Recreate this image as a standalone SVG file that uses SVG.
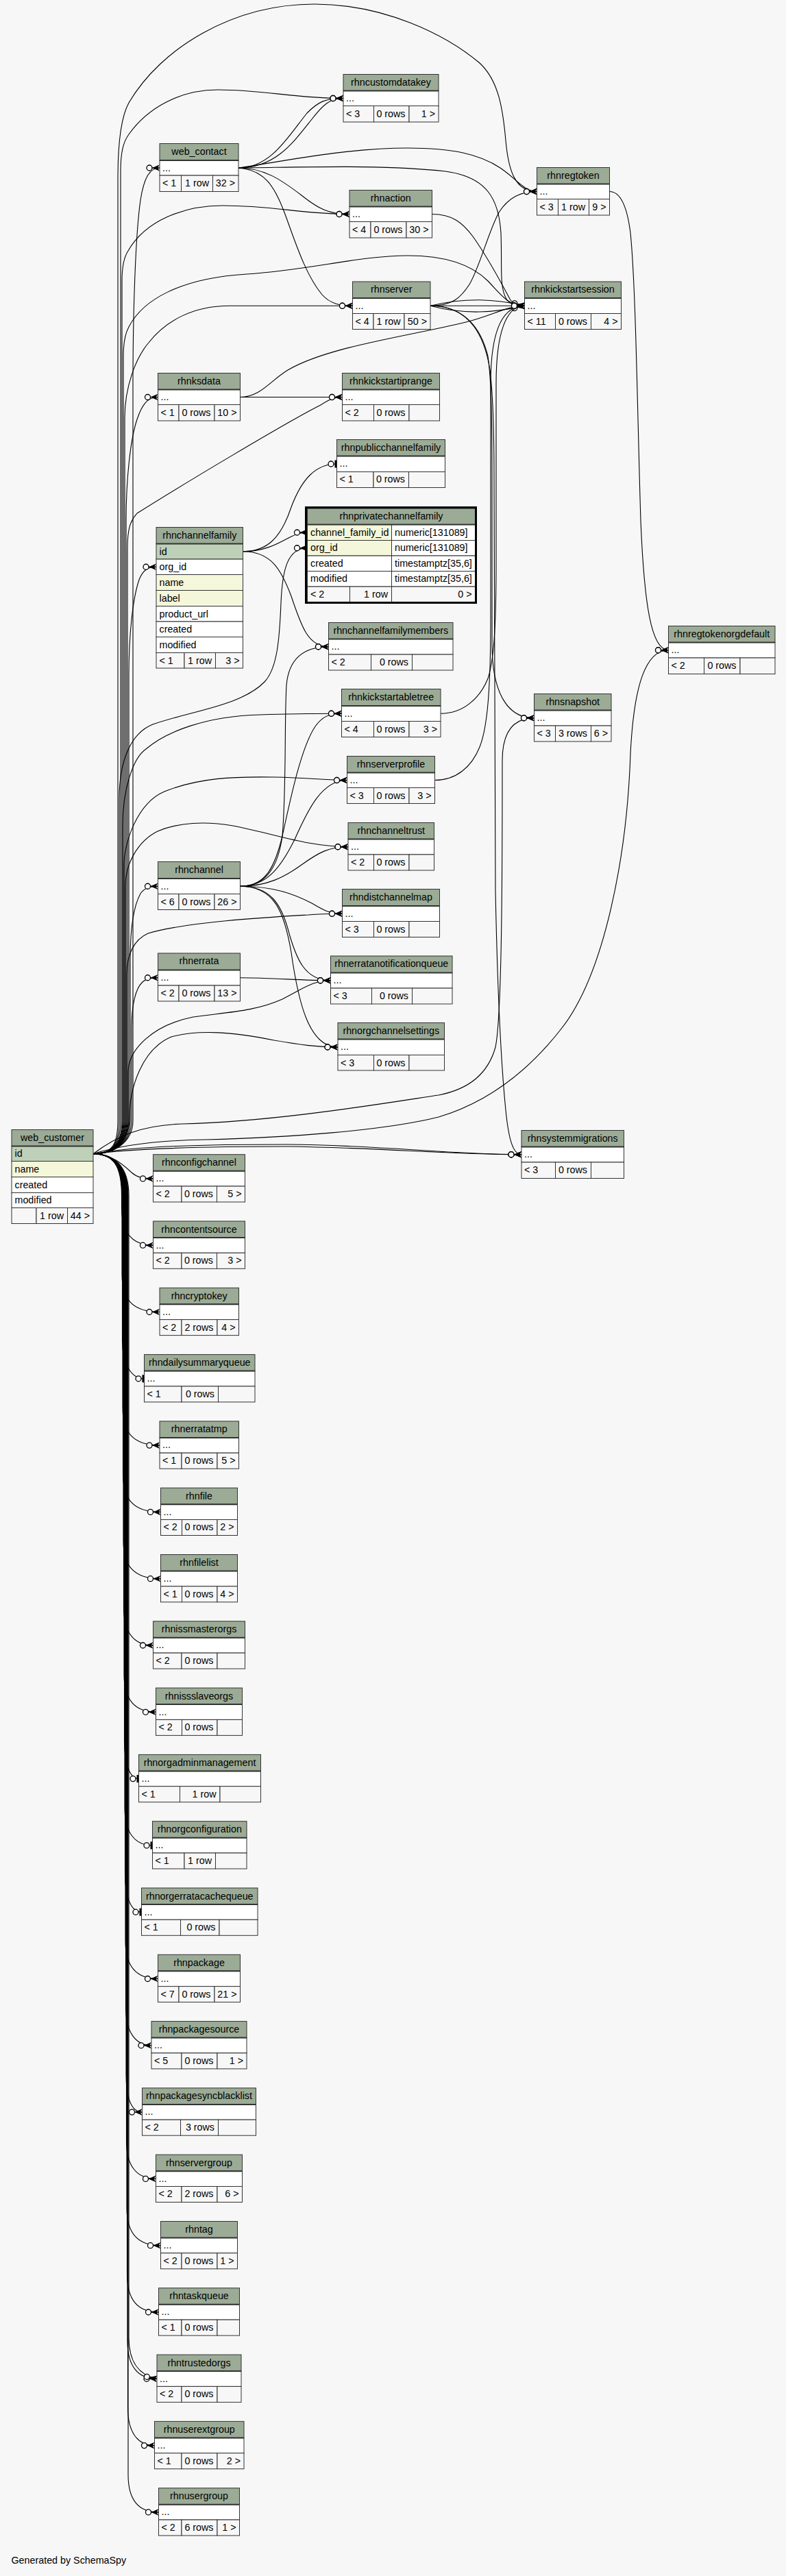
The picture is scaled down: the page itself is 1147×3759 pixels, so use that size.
<svg xmlns="http://www.w3.org/2000/svg" width="1147" height="3759" viewBox="0 0 1147 3759">
<style>
.h{fill:#9bab96;stroke:#333;stroke-width:1}
.w{fill:#fff;stroke:#333;stroke-width:1}
.f{fill:#f7f7f7;stroke:#333;stroke-width:1}
.pk{fill:#bed1b8;stroke:#333;stroke-width:1}
.ix{fill:#f4f7da;stroke:#333;stroke-width:1}
.hl{stroke:#333;stroke-width:2}
text{font-family:"Liberation Sans",Arial,Helvetica,sans-serif;font-size:14.3px;fill:#000}
.c{text-anchor:middle}
.e{text-anchor:end}
#connectors path{fill:none;stroke:#000;stroke-width:1.1}
.cr{marker-end:url(#crow)}
.te{marker-end:url(#tee)}
</style>
<defs>
<marker id="crow" viewBox="-22 -7 24 14" refX="0" refY="0" markerWidth="24" markerHeight="14" orient="auto" markerUnits="userSpaceOnUse" overflow="visible">
<polygon points="-11,0 0,-4.8 -3,0 0,4.8" fill="#000"/>
<path d="M-11,0 L0,0" stroke="#000" stroke-width="1.2" fill="none"/>
<circle cx="-15" cy="0" r="4" fill="#fff" stroke="#000" stroke-width="1.3"/>
</marker>
<marker id="tee" viewBox="-14 -7 16 14" refX="0" refY="0" markerWidth="16" markerHeight="14" orient="auto" markerUnits="userSpaceOnUse" overflow="visible">
<rect x="-3" y="-5.5" width="2.6" height="11" fill="#000"/>
<circle cx="-8.5" cy="0" r="4" fill="#fff" stroke="#000" stroke-width="1.3"/>
</marker>
</defs>
<rect x="0" y="0" width="1147" height="3759" fill="#f7f7f7"/>

<g id="connectors">
<!-- web_customer upward -->
<path class="cr" d="M136,1683.7 C165,1683.7 172,1668 172,1635 L172,260 C172,205 177,170 188,150 C235,70 340,6 459,6 C560,6 650,50 700,92 C728,118 734,160 738,205 C742,250 752,279.5 783.5,279.5"/>
<path class="cr" d="M136,1683.7 C165,1683.7 176,1668 176,1635 L176,250 C176,222 180,207 188,196 C215,158 262,131 318,131 C385,131 430,143.5 501,143.5"/>
<path class="cr" d="M136,1683.7 C165,1683.7 194,1668 194,1635 L194,560 C194,450 198,340 205,292 C210,260 218,245 233,245"/>
<path class="cr" d="M136,1683.7 C165,1683.7 178,1668 178,1635 L178,410 C178,388 181,375 187,366 C212,322 268,300 325,300 C400,300 440,312.5 510,312.5"/>
<path class="cr" d="M136,1683.7 C165,1683.7 180,1668 180,1635 L180,520 C180,498 183,486 188,477 C208,438 262,406 360,400 C452,394 525,373 595,373 C655,373 690,388 712,410 C733,432 742,446.25 765.5,446.25"/>
<path class="cr" d="M136,1683.7 C165,1683.7 182,1668 182,1635 L182,610 C182,565 198,522 217,500 C242,468 282,446.25 335,446.25 L514.5,446.25"/>
<path class="cr" d="M136,1683.7 C165,1683.7 184,1668 184,1635 L184,760 C184,700 190,642 200,612 C207,591 215,579.5 230.5,579.5"/>
<path class="cr" d="M136,1683.7 C165,1683.7 186,1668 186,1635 L186,800 C186,772 190,760 200,749 C265,708 420,615 468,591 C480,583 488,579.5 499.5,579.5"/>
<path class="cr" d="M136,1683.7 C165,1683.7 188,1668 188,1635 L188,985 C188,925 194,872 203,846 C208,833 215,827.25 228,827.25"/>
<path class="cr" d="M136,1683.7 C165,1683.7 174,1668 174,1635 L174,1165 C174,1112 190,1070 223,1057 C280,1037 352,1030 386,995 C405,975 408,930 410,880 C412,830 420,799.75 448.5,799.75"/>
<path class="cr" d="M136,1683.7 C165,1683.7 179,1668 179,1635 L179,1205 C179,1152 194,1106 213,1093 C242,1068 300,1045 380,1043 C430,1041.25 460,1041.25 498.5,1041.25"/>
<path class="cr" d="M136,1683.7 C165,1683.7 181,1668 181,1635 L181,1262 C181,1230 200,1172 240,1155 C290,1135 340,1133 400,1134 C452,1135 476,1138.5 506.5,1138.5"/>
<path class="cr" d="M136,1683.7 C165,1683.7 183,1668 183,1635 L183,1292 C183,1262 200,1228 230,1213 C260,1200 300,1198 340,1205 C402,1217 450,1235.75 508,1235.75"/>
<path class="cr" d="M136,1683.7 C165,1683.7 190,1668 190,1635 L190,1400 C190,1352 195,1322 205,1304 C210,1296 218,1293.25 230.5,1293.25"/>
<path class="cr" d="M136,1683.7 C165,1683.7 185,1668 185,1635 L185,1422 C185,1392 196,1371 216,1362 C272,1345 400,1338 450,1335 C470,1333.25 485,1333.25 499.5,1333.25"/>
<path class="cr" d="M136,1683.7 C165,1683.7 192,1668 192,1635 L192,1500 C192,1466 198,1442 208,1433 C213,1428 220,1426.75 230.5,1426.75"/>
<path class="cr" d="M136,1683.7 C165,1683.7 187,1668 187,1635 L187,1565 C187,1532 222,1496 282,1484 C332,1477 372,1476 412,1458 C442,1443 456,1430.75 482.5,1430.75"/>
<path class="cr" d="M136,1683.7 C165,1683.7 189,1668 189,1630 C189,1588 207,1531 250,1513 C292,1502 340,1506 400,1518 C442,1525 462,1528 493,1528"/>
<!-- web_customer rightward -->
<path class="cr" d="M136,1683.7 C180,1670 232,1664 300,1663 C420,1660 560,1650 640,1630 C700,1612 762,1575 820,1500 C882,1420 915,1250 920,1100 C925,1000 942,948.75 975.5,948.75"/>
<path class="cr" d="M136,1683.7 C170,1658 205,1642 267,1640 C400,1637 560,1610 640,1598 C682,1590 712,1568 723,1528 C733,1480 733,1250 733,1110 C733,1070 748,1047.75 779.5,1047.75"/>
<path class="cr" d="M136,1683.7 C200,1672 300,1670 420,1670 C560,1671 650,1684.75 761,1684.75"/>
<path class="cr" d="M136,1683.7 C200,1675 300,1673 420,1673 C560,1675 655,1684.75 761,1684.75"/>
<!-- web_contact -->
<path class="cr" d="M348,245 C395,245 420,200 448,165 C465,148 475,143.5 501,143.5"/>
<path class="cr" d="M348,245 C402,245 428,208 455,174 C472,152 482,143.5 501,143.5"/>
<path class="cr" d="M348,245 C385,245 410,262 440,285 C465,305 480,312.5 510,312.5"/>
<path class="cr" d="M348,245 C385,248 400,270 415,310 C430,350 445,400 470,430 C482,443 495,446.25 514.5,446.25"/>
<path class="cr" d="M348,245 C400,238 500,216 595,216 C660,216 700,225 730,245 C755,262 765,279.5 783.5,279.5"/>
<path class="cr" d="M348,245 C450,244 560,240 650,250 C710,258 728,290 731,340 C733,390 728,420 740,438 C748,446 755,446.25 765.5,446.25"/>
<!-- rhnserver -->
<path class="cr" d="M628,446.25 C680,434 722,436 765.5,446.25"/>
<path class="cr" d="M628,446.25 L765.5,446.25"/>
<path class="cr" d="M628,446.25 C680,460 722,456 765.5,446.25"/>
<path class="cr" d="M628,446.25 C660,446 672,435 685,415 C700,390 712,340 728,310 C742,288 760,279.5 783.5,279.5"/>
<path class="cr" d="M628,446.25 C670,446.25 700,470 712,520 C718,560 718,640 718,700 L718,940 C718,1010 740,1047.75 779.5,1047.75"/>
<path class="cr" d="M628,446.25 C675,446.25 705,475 715,540 C720,580 721,640 721,700 L723,1300 C726,1450 732,1560 738,1620 C742,1660 748,1684.75 761,1684.75"/>
<!-- others into rhnkickstartsession -->
<path class="cr" d="M630.5,312.5 C660,312.5 675,325 690,345 C715,380 735,420 745,438 C750,445 757,446.25 765.5,446.25"/>
<path class="cr" d="M350.5,579.5 C380,579.5 395,555 420,540 C480,505 600,490 680,470 C720,460 740,446.25 765.5,446.25"/>
<path class="cr" d="M643,1041.25 C675,1041.25 700,1020 712,990 C722,960 724,900 724,820 L724,560 C724,490 737,446.25 765.5,446.25"/>
<path class="cr" d="M634.5,1138.5 C665,1138.5 688,1120 700,1090 C712,1060 716,1000 716,900 L716,560 C716,480 735,446.25 765.5,446.25"/>
<!-- rhnksdata -> iprange -->
<path class="cr" d="M350.5,579.5 L499.5,579.5"/>
<!-- rhnchannelfamily -->
<path class="te" d="M354.5,804.75 C390,804.75 410,785 425,740 C440,700 460,677 491.5,677"/>
<path class="cr" d="M354.5,804.75 C390,804.75 410,790 425,783 C433,779 440,777 448.5,777"/>
<path class="cr" d="M354.5,804.75 C395,804.75 410,830 425,870 C440,915 450,943.75 479.5,943.75"/>
<!-- rhnregtoken -> orgdefault -->
<path class="cr" d="M889.5,279.5 C905,279.5 915,300 920,340 C928,420 930,600 935,760 C940,880 950,948.75 975.5,948.75"/>
<!-- rhnchannel -->
<path class="cr" d="M350.5,1293.25 C385,1293.25 405,1270 412,1220 C418,1150 415,1050 418,1000 C421,965 440,943.75 479.5,943.75"/>
<path class="cr" d="M350.5,1293.25 C385,1293.25 400,1270 412,1220 C425,1160 440,1090 460,1060 C470,1046 480,1041.25 498.5,1041.25"/>
<path class="cr" d="M350.5,1293.25 C390,1293.25 410,1265 430,1225 C450,1180 470,1138.5 506.5,1138.5"/>
<path class="cr" d="M350.5,1293.25 C390,1293.25 415,1280 440,1262 C465,1244 480,1235.75 508,1235.75"/>
<path class="cr" d="M350.5,1293.25 C400,1293.25 430,1305 455,1318 C470,1327 480,1333.25 499.5,1333.25"/>
<path class="cr" d="M350.5,1293.25 C395,1293.25 410,1320 420,1355 C432,1400 445,1430.75 482.5,1430.75"/>
<path class="cr" d="M350.5,1293.25 C400,1293.25 415,1330 425,1390 C435,1460 450,1528 493,1528"/>
<!-- rhnerrata -->
<path class="cr" d="M350.5,1426.75 C400,1427 440,1430.75 482.5,1430.75"/>
<!-- web_customer downward -->
<path class="cr" d="M136,1683.7 C165,1685 180,1700 192,1711 C200,1718 208,1719.9 223.5,1719.9"/>
<path class="cr" d="M136,1683.7 C165,1683.7 177.5,1700 177.5,1745 L177.5,1762.2 C177.5,1797.2 191.5,1817.2 223.5,1817.2"/>
<path class="cr" d="M136,1683.7 C165,1683.7 178,1700 178,1745 L178,1859.5 C178,1894.5 192,1914.5 233,1914.5"/>
<path class="te" d="M136,1683.7 C165,1683.7 178.5,1700 178.5,1745 L178.5,1956.8 C178.5,1991.8 192.5,2011.8 210.5,2011.8"/>
<path class="cr" d="M136,1683.7 C165,1683.7 179,1700 179,1745 L179,2054.1 C179,2089.1 193,2109.1 233,2109.1"/>
<path class="cr" d="M136,1683.7 C165,1683.7 179.5,1700 179.5,1745 L179.5,2151.4 C179.5,2186.4 193.5,2206.4 234.5,2206.4"/>
<path class="cr" d="M136,1683.7 C165,1683.7 180,1700 180,1745 L180,2248.7 C180,2283.7 194,2303.7 234.5,2303.7"/>
<path class="cr" d="M136,1683.7 C165,1683.7 180.5,1700 180.5,1745 L180.5,2346 C180.5,2381 194.5,2401 223.5,2401"/>
<path class="cr" d="M136,1683.7 C165,1683.7 181,1700 181,1745 L181,2443.3 C181,2478.3 195,2498.3 227.5,2498.3"/>
<path class="te" d="M136,1683.7 C165,1683.7 181.5,1700 181.5,1745 L181.5,2540.6 C181.5,2575.6 190,2595.6 202.5,2595.6"/>
<path class="te" d="M136,1683.7 C165,1683.7 182,1700 182,1745 L182,2637.9 C182,2672.9 196,2692.9 222.5,2692.9"/>
<path class="te" d="M136,1683.7 C165,1683.7 182.5,1700 182.5,1745 L182.5,2735.2 C182.5,2770.2 192,2790.2 206.5,2790.2"/>
<path class="cr" d="M136,1683.7 C165,1683.7 183,1700 183,1745 L183,2832.5 C183,2867.5 197,2887.5 230.5,2887.5"/>
<path class="cr" d="M136,1683.7 C165,1683.7 183.5,1700 183.5,1745 L183.5,2929.8 C183.5,2964.8 197.5,2984.8 221,2984.8"/>
<path class="cr" d="M136,1683.7 C165,1683.7 184,1700 184,1745 L184,3027.1 C184,3062.1 192,3082.1 207.5,3082.1"/>
<path class="cr" d="M136,1683.7 C165,1683.7 184.5,1700 184.5,1745 L184.5,3124.4 C184.5,3159.4 198.5,3179.4 227.5,3179.4"/>
<path class="cr" d="M136,1683.7 C165,1683.7 185,1700 185,1745 L185,3221.7 C185,3256.7 199,3276.7 234.5,3276.7"/>
<path class="cr" d="M136,1683.7 C165,1683.7 185.5,1700 185.5,1745 L185.5,3319 C185.5,3354 199.5,3374 231.5,3374"/>
<path class="cr" d="M136,1683.7 C165,1683.7 186,1700 186,1745 L186,3416.3 C186,3451.3 200,3471.3 229,3471.3"/>
<path class="cr" d="M136,1683.7 C165,1683.7 188,1700 188,1745 L188,3411.3 C188,3446.3 203,3466 229,3471.3"/>
<path class="cr" d="M136,1683.7 C165,1683.7 186.5,1700 186.5,1745 L186.5,3513.6 C186.5,3548.6 200.5,3568.6 225.5,3568.6"/>
<path class="cr" d="M136,1683.7 C165,1683.7 187,1700 187,1745 L187,3610.9 C187,3645.9 201,3665.9 231.5,3665.9"/>
</g>

<g id="rhncustomdatakey">
<rect class="h" x="501" y="108.5" width="139" height="24"/>
<rect class="w" x="501" y="132.5" width="139" height="22"/>
<rect class="f" x="501" y="154.5" width="44.5" height="23.5"/>
<rect class="f" x="545.5" y="154.5" width="51.5" height="23.5"/>
<rect class="f" x="597" y="154.5" width="43" height="23.5"/>
<line class="hl" x1="501" y1="132.5" x2="640" y2="132.5"/>
<text class="c" x="570.5" y="124.5">rhncustomdatakey</text>
<text x="505" y="148">...</text>
<text x="505" y="170.5">&lt; 3</text>
<text class="e" x="591.5" y="170.5">0 rows</text>
<text class="e" x="635" y="170.5">1 &gt;</text>
</g>

<g id="web_contact">
<rect class="h" x="233" y="209.5" width="115" height="24.5"/>
<rect class="w" x="233" y="234" width="115" height="22"/>
<rect class="f" x="233" y="256" width="31.5" height="23.5"/>
<rect class="f" x="264.5" y="256" width="46" height="23.5"/>
<rect class="f" x="310.5" y="256" width="37.5" height="23.5"/>
<line class="hl" x1="233" y1="234" x2="348" y2="234"/>
<text class="c" x="290.5" y="225.5">web_contact</text>
<text x="237" y="249.5">...</text>
<text x="237" y="272">&lt; 1</text>
<text class="e" x="305" y="272">1 row</text>
<text class="e" x="343" y="272">32 &gt;</text>
</g>

<g id="rhnaction">
<rect class="h" x="510" y="277.5" width="120.5" height="24"/>
<rect class="w" x="510" y="301.5" width="120.5" height="22"/>
<rect class="f" x="510" y="323.5" width="31" height="23.5"/>
<rect class="f" x="541" y="323.5" width="52" height="23.5"/>
<rect class="f" x="593" y="323.5" width="37.5" height="23.5"/>
<line class="hl" x1="510" y1="301.5" x2="630.5" y2="301.5"/>
<text class="c" x="570.25" y="293.5">rhnaction</text>
<text x="514" y="317">...</text>
<text x="514" y="339.5">&lt; 4</text>
<text class="e" x="587.5" y="339.5">0 rows</text>
<text class="e" x="625.5" y="339.5">30 &gt;</text>
</g>

<g id="rhnserver">
<rect class="h" x="514.5" y="411" width="113.5" height="24"/>
<rect class="w" x="514.5" y="435" width="113.5" height="22.5"/>
<rect class="f" x="514.5" y="457.5" width="30.5" height="23"/>
<rect class="f" x="545" y="457.5" width="45" height="23"/>
<rect class="f" x="590" y="457.5" width="38" height="23"/>
<line class="hl" x1="514.5" y1="435" x2="628" y2="435"/>
<text class="c" x="571.25" y="427">rhnserver</text>
<text x="518.5" y="450.5">...</text>
<text x="518.5" y="473.5">&lt; 4</text>
<text class="e" x="584.5" y="473.5">1 row</text>
<text class="e" x="623" y="473.5">50 &gt;</text>
</g>

<g id="rhnregtoken">
<rect class="h" x="783.5" y="244.5" width="106" height="24"/>
<rect class="w" x="783.5" y="268.5" width="106" height="22"/>
<rect class="f" x="783.5" y="290.5" width="31" height="23.5"/>
<rect class="f" x="814.5" y="290.5" width="45" height="23.5"/>
<rect class="f" x="859.5" y="290.5" width="30" height="23.5"/>
<line class="hl" x1="783.5" y1="268.5" x2="889.5" y2="268.5"/>
<text class="c" x="836.5" y="260.5">rhnregtoken</text>
<text x="787.5" y="284">...</text>
<text x="787.5" y="306.5">&lt; 3</text>
<text class="e" x="854" y="306.5">1 row</text>
<text class="e" x="884.5" y="306.5">9 &gt;</text>
</g>

<g id="rhnkickstartsession">
<rect class="h" x="765.5" y="411" width="141" height="24"/>
<rect class="w" x="765.5" y="435" width="141" height="22.5"/>
<rect class="f" x="765.5" y="457.5" width="45" height="23"/>
<rect class="f" x="810.5" y="457.5" width="52" height="23"/>
<rect class="f" x="862.5" y="457.5" width="44" height="23"/>
<line class="hl" x1="765.5" y1="435" x2="906.5" y2="435"/>
<text class="c" x="836" y="427">rhnkickstartsession</text>
<text x="769.5" y="450.5">...</text>
<text x="769.5" y="473.5">&lt; 11</text>
<text class="e" x="857" y="473.5">0 rows</text>
<text class="e" x="901.5" y="473.5">4 &gt;</text>
</g>

<g id="rhnksdata">
<rect class="h" x="230.5" y="544.5" width="120" height="24"/>
<rect class="w" x="230.5" y="568.5" width="120" height="22"/>
<rect class="f" x="230.5" y="590.5" width="30.5" height="23.5"/>
<rect class="f" x="261" y="590.5" width="52" height="23.5"/>
<rect class="f" x="313" y="590.5" width="37.5" height="23.5"/>
<line class="hl" x1="230.5" y1="568.5" x2="350.5" y2="568.5"/>
<text class="c" x="290.5" y="560.5">rhnksdata</text>
<text x="234.5" y="584">...</text>
<text x="234.5" y="606.5">&lt; 1</text>
<text class="e" x="307.5" y="606.5">0 rows</text>
<text class="e" x="345.5" y="606.5">10 &gt;</text>
</g>

<g id="rhnkickstartiprange">
<rect class="h" x="499.5" y="544.5" width="142" height="24"/>
<rect class="w" x="499.5" y="568.5" width="142" height="22"/>
<rect class="f" x="499.5" y="590.5" width="46" height="23.5"/>
<rect class="f" x="545.5" y="590.5" width="51.5" height="23.5"/>
<rect class="f" x="597" y="590.5" width="44.5" height="23.5"/>
<line class="hl" x1="499.5" y1="568.5" x2="641.5" y2="568.5"/>
<text class="c" x="570.5" y="560.5">rhnkickstartiprange</text>
<text x="503.5" y="584">...</text>
<text x="503.5" y="606.5">&lt; 2</text>
<text class="e" x="591.5" y="606.5">0 rows</text>
</g>

<g id="rhnpublicchannelfamily">
<rect class="h" x="491.5" y="641.5" width="158" height="24"/>
<rect class="w" x="491.5" y="665.5" width="158" height="23"/>
<rect class="f" x="491.5" y="688.5" width="53.5" height="23"/>
<rect class="f" x="545" y="688.5" width="51.5" height="23"/>
<rect class="f" x="596.5" y="688.5" width="53" height="23"/>
<line class="hl" x1="491.5" y1="665.5" x2="649.5" y2="665.5"/>
<text class="c" x="570.5" y="657.5">rhnpublicchannelfamily</text>
<text x="495.5" y="681">...</text>
<text x="495.5" y="704">&lt; 1</text>
<text class="e" x="591" y="704">0 rows</text>
</g>

<g id="rhnprivatechannelfamily">
<rect class="h" x="448.5" y="742" width="245" height="23.5"/>
<rect class="ix" x="448.5" y="765.5" width="123" height="23"/>
<rect class="w" x="571.5" y="765.5" width="122" height="23"/>
<rect class="ix" x="448.5" y="788.5" width="123" height="22.5"/>
<rect class="w" x="571.5" y="788.5" width="122" height="22.5"/>
<rect class="w" x="448.5" y="811" width="123" height="22.5"/>
<rect class="w" x="571.5" y="811" width="122" height="22.5"/>
<rect class="w" x="448.5" y="833.5" width="123" height="22.5"/>
<rect class="w" x="571.5" y="833.5" width="122" height="22.5"/>
<rect class="f" x="448.5" y="856" width="62" height="22.5"/>
<rect class="f" x="510.5" y="856" width="61" height="22.5"/>
<rect class="f" x="571.5" y="856" width="122" height="22.5"/>
<line class="hl" x1="448.5" y1="765.5" x2="693.5" y2="765.5"/>
<rect x="446.5" y="740.5" width="248" height="139" fill="none" stroke="#000" stroke-width="3"/>
<text class="c" x="571" y="758">rhnprivatechannelfamily</text>
<text x="453" y="781.5">channel_family_id</text>
<text x="576" y="781.5">numeric[131089]</text>
<text x="453" y="804">org_id</text>
<text x="576" y="804">numeric[131089]</text>
<text x="453" y="826.5">created</text>
<text x="576" y="826.5">timestamptz[35,6]</text>
<text x="453" y="849">modified</text>
<text x="576" y="849">timestamptz[35,6]</text>
<text x="453" y="871.5">&lt; 2</text>
<text class="e" x="566" y="871.5">1 row</text>
<text class="e" x="688.5" y="871.5">0 &gt;</text>
</g>

<g id="rhnchannelfamily">
<rect class="h" x="228" y="769.5" width="126.5" height="24"/>
<rect class="pk" x="228" y="793.5" width="126.5" height="22.5"/>
<rect class="w" x="228" y="816" width="126.5" height="22.5"/>
<rect class="ix" x="228" y="838.5" width="126.5" height="23"/>
<rect class="ix" x="228" y="861.5" width="126.5" height="23"/>
<rect class="w" x="228" y="884.5" width="126.5" height="22.5"/>
<rect class="w" x="228" y="907" width="126.5" height="22.5"/>
<rect class="w" x="228" y="929.5" width="126.5" height="23"/>
<rect class="f" x="228" y="952.5" width="41" height="22.5"/>
<rect class="f" x="269" y="952.5" width="45.5" height="22.5"/>
<rect class="f" x="314.5" y="952.5" width="40" height="22.5"/>
<line class="hl" x1="228" y1="793.5" x2="354.5" y2="793.5"/>
<text class="c" x="291.25" y="785.5">rhnchannelfamily</text>
<text x="232.5" y="809.5">id</text>
<text x="232.5" y="832">org_id</text>
<text x="232.5" y="854.5">name</text>
<text x="232.5" y="877.5">label</text>
<text x="232.5" y="900.5">product_url</text>
<text x="232.5" y="923">created</text>
<text x="232.5" y="945.5">modified</text>
<text x="232.5" y="968.5">&lt; 1</text>
<text class="e" x="309" y="968.5">1 row</text>
<text class="e" x="349.5" y="968.5">3 &gt;</text>
</g>

<g id="rhnchannelfamilymembers">
<rect class="h" x="479.5" y="908.5" width="181.5" height="24"/>
<rect class="w" x="479.5" y="932.5" width="181.5" height="22.5"/>
<rect class="f" x="479.5" y="955" width="62" height="23"/>
<rect class="f" x="541.5" y="955" width="60" height="23"/>
<rect class="f" x="601.5" y="955" width="59.5" height="23"/>
<line class="hl" x1="479.5" y1="932.5" x2="661" y2="932.5"/>
<text class="c" x="570.25" y="924.5">rhnchannelfamilymembers</text>
<text x="483.5" y="948">...</text>
<text x="483.5" y="971">&lt; 2</text>
<text class="e" x="596" y="971">0 rows</text>
</g>

<g id="rhnregtokenorgdefault">
<rect class="h" x="975.5" y="913.5" width="155.5" height="24"/>
<rect class="w" x="975.5" y="937.5" width="155.5" height="22.5"/>
<rect class="f" x="975.5" y="960" width="52" height="23.5"/>
<rect class="f" x="1027.5" y="960" width="52.5" height="23.5"/>
<rect class="f" x="1080" y="960" width="51" height="23.5"/>
<line class="hl" x1="975.5" y1="937.5" x2="1131" y2="937.5"/>
<text class="c" x="1053.25" y="929.5">rhnregtokenorgdefault</text>
<text x="979.5" y="953">...</text>
<text x="979.5" y="976">&lt; 2</text>
<text class="e" x="1074.5" y="976">0 rows</text>
</g>

<g id="rhnsnapshot">
<rect class="h" x="779.5" y="1012.5" width="112.5" height="24"/>
<rect class="w" x="779.5" y="1036.5" width="112.5" height="22.5"/>
<rect class="f" x="779.5" y="1059" width="31" height="23"/>
<rect class="f" x="810.5" y="1059" width="52" height="23"/>
<rect class="f" x="862.5" y="1059" width="29.5" height="23"/>
<line class="hl" x1="779.5" y1="1036.5" x2="892" y2="1036.5"/>
<text class="c" x="835.75" y="1028.5">rhnsnapshot</text>
<text x="783.5" y="1052">...</text>
<text x="783.5" y="1075">&lt; 3</text>
<text class="e" x="857" y="1075">3 rows</text>
<text class="e" x="887" y="1075">6 &gt;</text>
</g>

<g id="rhnkickstartabletree">
<rect class="h" x="498.5" y="1005.5" width="144.5" height="24.5"/>
<rect class="w" x="498.5" y="1030" width="144.5" height="22.5"/>
<rect class="f" x="498.5" y="1052.5" width="47" height="23"/>
<rect class="f" x="545.5" y="1052.5" width="51.5" height="23"/>
<rect class="f" x="597" y="1052.5" width="46" height="23"/>
<line class="hl" x1="498.5" y1="1030" x2="643" y2="1030"/>
<text class="c" x="570.75" y="1021.5">rhnkickstartabletree</text>
<text x="502.5" y="1045.5">...</text>
<text x="502.5" y="1068.5">&lt; 4</text>
<text class="e" x="591.5" y="1068.5">0 rows</text>
<text class="e" x="638" y="1068.5">3 &gt;</text>
</g>

<g id="rhnserverprofile">
<rect class="h" x="506.5" y="1103.5" width="128" height="24"/>
<rect class="w" x="506.5" y="1127.5" width="128" height="22"/>
<rect class="f" x="506.5" y="1149.5" width="39" height="23"/>
<rect class="f" x="545.5" y="1149.5" width="51.5" height="23"/>
<rect class="f" x="597" y="1149.5" width="37.5" height="23"/>
<line class="hl" x1="506.5" y1="1127.5" x2="634.5" y2="1127.5"/>
<text class="c" x="570.5" y="1119.5">rhnserverprofile</text>
<text x="510.5" y="1143">...</text>
<text x="510.5" y="1165.5">&lt; 3</text>
<text class="e" x="591.5" y="1165.5">0 rows</text>
<text class="e" x="629.5" y="1165.5">3 &gt;</text>
</g>

<g id="rhnchanneltrust">
<rect class="h" x="508" y="1200.5" width="125.5" height="24"/>
<rect class="w" x="508" y="1224.5" width="125.5" height="22.5"/>
<rect class="f" x="508" y="1247" width="37.5" height="23"/>
<rect class="f" x="545.5" y="1247" width="51.5" height="23"/>
<rect class="f" x="597" y="1247" width="36.5" height="23"/>
<line class="hl" x1="508" y1="1224.5" x2="633.5" y2="1224.5"/>
<text class="c" x="570.75" y="1216.5">rhnchanneltrust</text>
<text x="512" y="1240">...</text>
<text x="512" y="1263">&lt; 2</text>
<text class="e" x="591.5" y="1263">0 rows</text>
</g>

<g id="rhnchannel">
<rect class="h" x="230.5" y="1257.5" width="120" height="24.5"/>
<rect class="w" x="230.5" y="1282" width="120" height="22.5"/>
<rect class="f" x="230.5" y="1304.5" width="30.5" height="23"/>
<rect class="f" x="261" y="1304.5" width="52" height="23"/>
<rect class="f" x="313" y="1304.5" width="37.5" height="23"/>
<line class="hl" x1="230.5" y1="1282" x2="350.5" y2="1282"/>
<text class="c" x="290.5" y="1273.5">rhnchannel</text>
<text x="234.5" y="1297.5">...</text>
<text x="234.5" y="1320.5">&lt; 6</text>
<text class="e" x="307.5" y="1320.5">0 rows</text>
<text class="e" x="345.5" y="1320.5">26 &gt;</text>
</g>

<g id="rhndistchannelmap">
<rect class="h" x="499.5" y="1297.5" width="142" height="24.5"/>
<rect class="w" x="499.5" y="1322" width="142" height="22.5"/>
<rect class="f" x="499.5" y="1344.5" width="46" height="23"/>
<rect class="f" x="545.5" y="1344.5" width="51.5" height="23"/>
<rect class="f" x="597" y="1344.5" width="44.5" height="23"/>
<line class="hl" x1="499.5" y1="1322" x2="641.5" y2="1322"/>
<text class="c" x="570.5" y="1313.5">rhndistchannelmap</text>
<text x="503.5" y="1337.5">...</text>
<text x="503.5" y="1360.5">&lt; 3</text>
<text class="e" x="591.5" y="1360.5">0 rows</text>
</g>

<g id="rhnerrata">
<rect class="h" x="230.5" y="1391" width="120" height="24.5"/>
<rect class="w" x="230.5" y="1415.5" width="120" height="22.5"/>
<rect class="f" x="230.5" y="1438" width="30.5" height="23"/>
<rect class="f" x="261" y="1438" width="52" height="23"/>
<rect class="f" x="313" y="1438" width="37.5" height="23"/>
<line class="hl" x1="230.5" y1="1415.5" x2="350.5" y2="1415.5"/>
<text class="c" x="290.5" y="1407">rhnerrata</text>
<text x="234.5" y="1431">...</text>
<text x="234.5" y="1454">&lt; 2</text>
<text class="e" x="307.5" y="1454">0 rows</text>
<text class="e" x="345.5" y="1454">13 &gt;</text>
</g>

<g id="rhnerratanotificationqueue">
<rect class="h" x="482.5" y="1395" width="177.5" height="24.5"/>
<rect class="w" x="482.5" y="1419.5" width="177.5" height="22.5"/>
<rect class="f" x="482.5" y="1442" width="60" height="23"/>
<rect class="f" x="542.5" y="1442" width="59" height="23"/>
<rect class="f" x="601.5" y="1442" width="58.5" height="23"/>
<line class="hl" x1="482.5" y1="1419.5" x2="660" y2="1419.5"/>
<text class="c" x="571.25" y="1411">rhnerratanotificationqueue</text>
<text x="486.5" y="1435">...</text>
<text x="486.5" y="1458">&lt; 3</text>
<text class="e" x="596" y="1458">0 rows</text>
</g>

<g id="rhnorgchannelsettings">
<rect class="h" x="493" y="1492.5" width="155.5" height="24"/>
<rect class="w" x="493" y="1516.5" width="155.5" height="23"/>
<rect class="f" x="493" y="1539.5" width="52.5" height="22.5"/>
<rect class="f" x="545.5" y="1539.5" width="51.5" height="22.5"/>
<rect class="f" x="597" y="1539.5" width="51.5" height="22.5"/>
<line class="hl" x1="493" y1="1516.5" x2="648.5" y2="1516.5"/>
<text class="c" x="570.75" y="1508.5">rhnorgchannelsettings</text>
<text x="497" y="1532">...</text>
<text x="497" y="1555.5">&lt; 3</text>
<text class="e" x="591.5" y="1555.5">0 rows</text>
</g>

<g id="web_customer">
<rect class="h" x="17" y="1648.5" width="119" height="24"/>
<rect class="pk" x="17" y="1672.5" width="119" height="22"/>
<rect class="ix" x="17" y="1694.5" width="119" height="23"/>
<rect class="w" x="17" y="1717.5" width="119" height="23"/>
<rect class="w" x="17" y="1740.5" width="119" height="22"/>
<rect class="f" x="17" y="1762.5" width="36" height="23"/>
<rect class="f" x="53" y="1762.5" width="45.5" height="23"/>
<rect class="f" x="98.5" y="1762.5" width="37.5" height="23"/>
<line class="hl" x1="17" y1="1672.5" x2="136" y2="1672.5"/>
<text class="c" x="76.5" y="1664.5">web_customer</text>
<text x="21.5" y="1688">id</text>
<text x="21.5" y="1711">name</text>
<text x="21.5" y="1734">created</text>
<text x="21.5" y="1756">modified</text>
<text class="e" x="93" y="1779">1 row</text>
<text class="e" x="131" y="1779">44 &gt;</text>
</g>

<g id="rhnsystemmigrations">
<rect class="h" x="761" y="1649.5" width="149.5" height="24"/>
<rect class="w" x="761" y="1673.5" width="149.5" height="22.5"/>
<rect class="f" x="761" y="1696" width="49.5" height="23.5"/>
<rect class="f" x="810.5" y="1696" width="52" height="23.5"/>
<rect class="f" x="862.5" y="1696" width="48" height="23.5"/>
<line class="hl" x1="761" y1="1673.5" x2="910.5" y2="1673.5"/>
<text class="c" x="835.75" y="1665.5">rhnsystemmigrations</text>
<text x="765" y="1689">...</text>
<text x="765" y="1712">&lt; 3</text>
<text class="e" x="857" y="1712">0 rows</text>
</g>

<g id="rhnconfigchannel" transform="translate(0,1684.7)">
<rect class="h" x="223.5" y="0" width="134" height="24"/><rect class="w" x="223.5" y="24" width="134" height="22.3"/>
<rect class="f" x="223.5" y="46.3" width="41.5" height="23"/><rect class="f" x="265" y="46.3" width="51.5" height="23"/><rect class="f" x="316.5" y="46.3" width="41" height="23"/>
<line class="hl" x1="223.5" y1="24" x2="357.5" y2="24"/>
<text class="c" x="290.5" y="16.5">rhnconfigchannel</text><text x="227.5" y="39.5">...</text>
<text x="227.5" y="62.3">&lt; 2</text><text class="e" x="311" y="62.3">0 rows</text><text class="e" x="352.5" y="62.3">5 &gt;</text>
</g>
<g id="rhncontentsource" transform="translate(0,1782)">
<rect class="h" x="223.5" y="0" width="134" height="24"/><rect class="w" x="223.5" y="24" width="134" height="22.3"/>
<rect class="f" x="223.5" y="46.3" width="41.5" height="23"/><rect class="f" x="265" y="46.3" width="51.5" height="23"/><rect class="f" x="316.5" y="46.3" width="41" height="23"/>
<line class="hl" x1="223.5" y1="24" x2="357.5" y2="24"/>
<text class="c" x="290.5" y="16.5">rhncontentsource</text><text x="227.5" y="39.5">...</text>
<text x="227.5" y="62.3">&lt; 2</text><text class="e" x="311" y="62.3">0 rows</text><text class="e" x="352.5" y="62.3">3 &gt;</text>
</g>
<g id="rhncryptokey" transform="translate(0,1879.3)">
<rect class="h" x="233" y="0" width="115.5" height="24"/><rect class="w" x="233" y="24" width="115.5" height="22.3"/>
<rect class="f" x="233" y="46.3" width="32" height="23"/><rect class="f" x="265" y="46.3" width="52" height="23"/><rect class="f" x="317" y="46.3" width="31.5" height="23"/>
<line class="hl" x1="233" y1="24" x2="348.5" y2="24"/>
<text class="c" x="290.75" y="16.5">rhncryptokey</text><text x="237" y="39.5">...</text>
<text x="237" y="62.3">&lt; 2</text><text class="e" x="311.5" y="62.3">2 rows</text><text class="e" x="343.5" y="62.3">4 &gt;</text>
</g>
<g id="rhndailysummaryqueue" transform="translate(0,1976.6)">
<rect class="h" x="210.5" y="0" width="161.5" height="24"/><rect class="w" x="210.5" y="24" width="161.5" height="22.3"/>
<rect class="f" x="210.5" y="46.3" width="54.5" height="23"/><rect class="f" x="265" y="46.3" width="53.5" height="23"/><rect class="f" x="318.5" y="46.3" width="53.5" height="23"/>
<line class="hl" x1="210.5" y1="24" x2="372" y2="24"/>
<text class="c" x="291.25" y="16.5">rhndailysummaryqueue</text><text x="214.5" y="39.5">...</text>
<text x="214.5" y="62.3">&lt; 1</text><text class="e" x="313" y="62.3">0 rows</text>
</g>
<g id="rhnerratatmp" transform="translate(0,2073.9)">
<rect class="h" x="233" y="0" width="115.5" height="24"/><rect class="w" x="233" y="24" width="115.5" height="22.3"/>
<rect class="f" x="233" y="46.3" width="32" height="23"/><rect class="f" x="265" y="46.3" width="52" height="23"/><rect class="f" x="317" y="46.3" width="31.5" height="23"/>
<line class="hl" x1="233" y1="24" x2="348.5" y2="24"/>
<text class="c" x="290.75" y="16.5">rhnerratatmp</text><text x="237" y="39.5">...</text>
<text x="237" y="62.3">&lt; 1</text><text class="e" x="311.5" y="62.3">0 rows</text><text class="e" x="343.5" y="62.3">5 &gt;</text>
</g>
<g id="rhnfile" transform="translate(0,2171.2)">
<rect class="h" x="234.5" y="0" width="112" height="24"/><rect class="w" x="234.5" y="24" width="112" height="22.3"/>
<rect class="f" x="234.5" y="46.3" width="31" height="23"/><rect class="f" x="265.5" y="46.3" width="51.5" height="23"/><rect class="f" x="317" y="46.3" width="29.5" height="23"/>
<line class="hl" x1="234.5" y1="24" x2="346.5" y2="24"/>
<text class="c" x="290.5" y="16.5">rhnfile</text><text x="238.5" y="39.5">...</text>
<text x="238.5" y="62.3">&lt; 2</text><text class="e" x="311.5" y="62.3">0 rows</text><text class="e" x="341.5" y="62.3">2 &gt;</text>
</g>
<g id="rhnfilelist" transform="translate(0,2268.5)">
<rect class="h" x="234.5" y="0" width="112" height="24"/><rect class="w" x="234.5" y="24" width="112" height="22.3"/>
<rect class="f" x="234.5" y="46.3" width="31" height="23"/><rect class="f" x="265.5" y="46.3" width="51.5" height="23"/><rect class="f" x="317" y="46.3" width="29.5" height="23"/>
<line class="hl" x1="234.5" y1="24" x2="346.5" y2="24"/>
<text class="c" x="290.5" y="16.5">rhnfilelist</text><text x="238.5" y="39.5">...</text>
<text x="238.5" y="62.3">&lt; 1</text><text class="e" x="311.5" y="62.3">0 rows</text><text class="e" x="341.5" y="62.3">4 &gt;</text>
</g>
<g id="rhnissmasterorgs" transform="translate(0,2365.8)">
<rect class="h" x="223.5" y="0" width="134" height="24"/><rect class="w" x="223.5" y="24" width="134" height="22.3"/>
<rect class="f" x="223.5" y="46.3" width="41.5" height="23"/><rect class="f" x="265" y="46.3" width="52" height="23"/><rect class="f" x="317" y="46.3" width="40.5" height="23"/>
<line class="hl" x1="223.5" y1="24" x2="357.5" y2="24"/>
<text class="c" x="290.5" y="16.5">rhnissmasterorgs</text><text x="227.5" y="39.5">...</text>
<text x="227.5" y="62.3">&lt; 2</text><text class="e" x="311.5" y="62.3">0 rows</text>
</g>
<g id="rhnissslaveorgs" transform="translate(0,2463.1)">
<rect class="h" x="227.5" y="0" width="126" height="24"/><rect class="w" x="227.5" y="24" width="126" height="22.3"/>
<rect class="f" x="227.5" y="46.3" width="38" height="23"/><rect class="f" x="265.5" y="46.3" width="51.5" height="23"/><rect class="f" x="317" y="46.3" width="36.5" height="23"/>
<line class="hl" x1="227.5" y1="24" x2="353.5" y2="24"/>
<text class="c" x="290.5" y="16.5">rhnissslaveorgs</text><text x="231.5" y="39.5">...</text>
<text x="231.5" y="62.3">&lt; 2</text><text class="e" x="311.5" y="62.3">0 rows</text>
</g>
<g id="rhnorgadminmanagement" transform="translate(0,2560.4)">
<rect class="h" x="202.5" y="0" width="178" height="24"/><rect class="w" x="202.5" y="24" width="178" height="22.3"/>
<rect class="f" x="202.5" y="46.3" width="60" height="23"/><rect class="f" x="262.5" y="46.3" width="58.5" height="23"/><rect class="f" x="321" y="46.3" width="59.5" height="23"/>
<line class="hl" x1="202.5" y1="24" x2="380.5" y2="24"/>
<text class="c" x="291.5" y="16.5">rhnorgadminmanagement</text><text x="206.5" y="39.5">...</text>
<text x="206.5" y="62.3">&lt; 1</text><text class="e" x="315.5" y="62.3">1 row</text>
</g>
<g id="rhnorgconfiguration" transform="translate(0,2657.7)">
<rect class="h" x="222.5" y="0" width="137.5" height="24"/><rect class="w" x="222.5" y="24" width="137.5" height="22.3"/>
<rect class="f" x="222.5" y="46.3" width="46.5" height="23"/><rect class="f" x="269" y="46.3" width="45.5" height="23"/><rect class="f" x="314.5" y="46.3" width="45.5" height="23"/>
<line class="hl" x1="222.5" y1="24" x2="360" y2="24"/>
<text class="c" x="291.25" y="16.5">rhnorgconfiguration</text><text x="226.5" y="39.5">...</text>
<text x="226.5" y="62.3">&lt; 1</text><text class="e" x="309" y="62.3">1 row</text>
</g>
<g id="rhnorgerratacachequeue" transform="translate(0,2755)">
<rect class="h" x="206.5" y="0" width="169.5" height="24"/><rect class="w" x="206.5" y="24" width="169.5" height="22.3"/>
<rect class="f" x="206.5" y="46.3" width="57" height="23"/><rect class="f" x="263.5" y="46.3" width="56.5" height="23"/><rect class="f" x="320" y="46.3" width="56" height="23"/>
<line class="hl" x1="206.5" y1="24" x2="376" y2="24"/>
<text class="c" x="291.25" y="16.5">rhnorgerratacachequeue</text><text x="210.5" y="39.5">...</text>
<text x="210.5" y="62.3">&lt; 1</text><text class="e" x="314.5" y="62.3">0 rows</text>
</g>
<g id="rhnpackage" transform="translate(0,2852.3)">
<rect class="h" x="230.5" y="0" width="120" height="24"/><rect class="w" x="230.5" y="24" width="120" height="22.3"/>
<rect class="f" x="230.5" y="46.3" width="30.5" height="23"/><rect class="f" x="261" y="46.3" width="52" height="23"/><rect class="f" x="313" y="46.3" width="37.5" height="23"/>
<line class="hl" x1="230.5" y1="24" x2="350.5" y2="24"/>
<text class="c" x="290.5" y="16.5">rhnpackage</text><text x="234.5" y="39.5">...</text>
<text x="234.5" y="62.3">&lt; 7</text><text class="e" x="307.5" y="62.3">0 rows</text><text class="e" x="345.5" y="62.3">21 &gt;</text>
</g>
<g id="rhnpackagesource" transform="translate(0,2949.6)">
<rect class="h" x="221" y="0" width="139" height="24"/><rect class="w" x="221" y="24" width="139" height="22.3"/>
<rect class="f" x="221" y="46.3" width="44" height="23"/><rect class="f" x="265" y="46.3" width="52" height="23"/><rect class="f" x="317" y="46.3" width="43" height="23"/>
<line class="hl" x1="221" y1="24" x2="360" y2="24"/>
<text class="c" x="290.5" y="16.5">rhnpackagesource</text><text x="225" y="39.5">...</text>
<text x="225" y="62.3">&lt; 5</text><text class="e" x="311.5" y="62.3">0 rows</text><text class="e" x="355" y="62.3">1 &gt;</text>
</g>
<g id="rhnpackagesyncblacklist" transform="translate(0,3046.9)">
<rect class="h" x="207.5" y="0" width="166" height="24"/><rect class="w" x="207.5" y="24" width="166" height="22.3"/>
<rect class="f" x="207.5" y="46.3" width="56" height="23"/><rect class="f" x="263.5" y="46.3" width="55" height="23"/><rect class="f" x="318.5" y="46.3" width="55" height="23"/>
<line class="hl" x1="207.5" y1="24" x2="373.5" y2="24"/>
<text class="c" x="290.5" y="16.5">rhnpackagesyncblacklist</text><text x="211.5" y="39.5">...</text>
<text x="211.5" y="62.3">&lt; 2</text><text class="e" x="313" y="62.3">3 rows</text>
</g>
<g id="rhnservergroup" transform="translate(0,3144.2)">
<rect class="h" x="227.5" y="0" width="126" height="24"/><rect class="w" x="227.5" y="24" width="126" height="22.3"/>
<rect class="f" x="227.5" y="46.3" width="37.5" height="23"/><rect class="f" x="265" y="46.3" width="52" height="23"/><rect class="f" x="317" y="46.3" width="36.5" height="23"/>
<line class="hl" x1="227.5" y1="24" x2="353.5" y2="24"/>
<text class="c" x="290.5" y="16.5">rhnservergroup</text><text x="231.5" y="39.5">...</text>
<text x="231.5" y="62.3">&lt; 2</text><text class="e" x="311.5" y="62.3">2 rows</text><text class="e" x="348.5" y="62.3">6 &gt;</text>
</g>
<g id="rhntag" transform="translate(0,3241.5)">
<rect class="h" x="234.5" y="0" width="112" height="24"/><rect class="w" x="234.5" y="24" width="112" height="22.3"/>
<rect class="f" x="234.5" y="46.3" width="30.5" height="23"/><rect class="f" x="265" y="46.3" width="52" height="23"/><rect class="f" x="317" y="46.3" width="29.5" height="23"/>
<line class="hl" x1="234.5" y1="24" x2="346.5" y2="24"/>
<text class="c" x="290.5" y="16.5">rhntag</text><text x="238.5" y="39.5">...</text>
<text x="238.5" y="62.3">&lt; 2</text><text class="e" x="311.5" y="62.3">0 rows</text><text class="e" x="341.5" y="62.3">1 &gt;</text>
</g>
<g id="rhntaskqueue" transform="translate(0,3338.8)">
<rect class="h" x="231.5" y="0" width="118" height="24"/><rect class="w" x="231.5" y="24" width="118" height="22.3"/>
<rect class="f" x="231.5" y="46.3" width="33.5" height="23"/><rect class="f" x="265" y="46.3" width="52" height="23"/><rect class="f" x="317" y="46.3" width="32.5" height="23"/>
<line class="hl" x1="231.5" y1="24" x2="349.5" y2="24"/>
<text class="c" x="290.5" y="16.5">rhntaskqueue</text><text x="235.5" y="39.5">...</text>
<text x="235.5" y="62.3">&lt; 1</text><text class="e" x="311.5" y="62.3">0 rows</text>
</g>
<g id="rhntrustedorgs" transform="translate(0,3436.1)">
<rect class="h" x="229" y="0" width="123" height="24"/><rect class="w" x="229" y="24" width="123" height="22.3"/>
<rect class="f" x="229" y="46.3" width="36" height="23"/><rect class="f" x="265" y="46.3" width="52" height="23"/><rect class="f" x="317" y="46.3" width="35" height="23"/>
<line class="hl" x1="229" y1="24" x2="352" y2="24"/>
<text class="c" x="290.5" y="16.5">rhntrustedorgs</text><text x="233" y="39.5">...</text>
<text x="233" y="62.3">&lt; 2</text><text class="e" x="311.5" y="62.3">0 rows</text>
</g>
<g id="rhnuserextgroup" transform="translate(0,3533.4)">
<rect class="h" x="225.5" y="0" width="130.5" height="24"/><rect class="w" x="225.5" y="24" width="130.5" height="22.3"/>
<rect class="f" x="225.5" y="46.3" width="39.5" height="23"/><rect class="f" x="265" y="46.3" width="52" height="23"/><rect class="f" x="317" y="46.3" width="39" height="23"/>
<line class="hl" x1="225.5" y1="24" x2="356" y2="24"/>
<text class="c" x="290.75" y="16.5">rhnuserextgroup</text><text x="229.5" y="39.5">...</text>
<text x="229.5" y="62.3">&lt; 1</text><text class="e" x="311.5" y="62.3">0 rows</text><text class="e" x="351" y="62.3">2 &gt;</text>
</g>
<g id="rhnusergroup" transform="translate(0,3630.7)">
<rect class="h" x="231.5" y="0" width="118" height="24"/><rect class="w" x="231.5" y="24" width="118" height="22.3"/>
<rect class="f" x="231.5" y="46.3" width="33.5" height="23"/><rect class="f" x="265" y="46.3" width="52" height="23"/><rect class="f" x="317" y="46.3" width="32.5" height="23"/>
<line class="hl" x1="231.5" y1="24" x2="349.5" y2="24"/>
<text class="c" x="290.5" y="16.5">rhnusergroup</text><text x="235.5" y="39.5">...</text>
<text x="235.5" y="62.3">&lt; 2</text><text class="e" x="311.5" y="62.3">6 rows</text><text class="e" x="344.5" y="62.3">1 &gt;</text>
</g>

<text x="16.5" y="3741">Generated by SchemaSpy</text>
</svg>
